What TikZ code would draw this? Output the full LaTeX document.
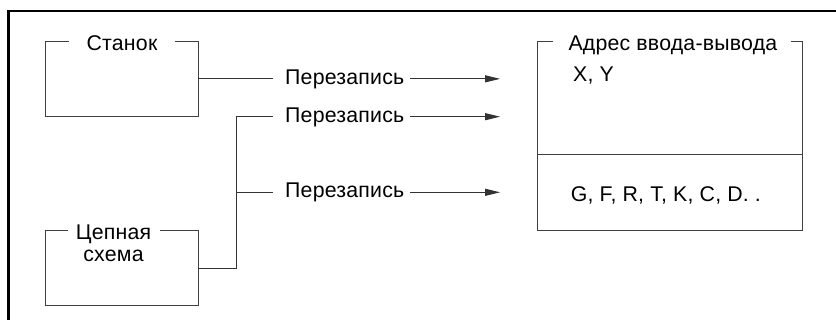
\documentclass[tikz,border=0pt]{standalone}
\usepackage{fontspec}
\setmainfont{Liberation Sans}[LetterSpace=1]
\usetikzlibrary{arrows.meta,calc}
\begin{document}
\begin{tikzpicture}[x=1pt,y=-1pt,
  txt/.style={inner sep=0pt, anchor=base west, font=\fontsize{21.3}{25}\selectfont},
  area/.style={inner sep=0pt, minimum width=#1},
  boxline/.style={draw=black!75, line width=1pt},
  conn/.style={draw=black!80, line width=1pt},
  arr/.style={conn, -{Triangle[length=15pt,width=7pt]}},
  frame/.style={draw=black, line width=2.6pt}]
\useasboundingbox (0,0) rectangle (836,320);
\draw[frame] (8.7,320) |- (836,11);
% box areas
\node[area=152pt, minimum height=74.3pt] (st) at (122,78.85) {};
\node[area=152pt, minimum height=75pt] (cs) at (122,268.2) {};
\node[area=264.7pt, minimum height=188.3pt] (addr) at (669.65,135.85) {};
\coordinate (div) at (0,154.3);
% box outlines with a gap for the title
\draw[boxline] ($(st.north west)+(23,0)$) -- (st.north west) -- (st.south west) -- (st.south east) -- (st.north east) -- ($(st.north east)+(-23,0)$);
\draw[boxline] ($(cs.north west)+(22,0)$) -- (cs.north west) -- (cs.south west) -- (cs.south east) -- (cs.north east) -- ($(cs.north east)+(-38,0)$);
\draw[boxline] ($(addr.north west)+(16,0)$) -- (addr.north west) -- (addr.south west) -- (addr.south east) -- (addr.north east) -- ($(addr.north east)+(-11,0)$);
\draw[boxline] (addr.west |- div) -- (addr.east |- div);
% texts
\node[txt, anchor=base] (stl) at (122,50.5) {Станок};
\node[txt, anchor=base] (cs1) at (113.5,240) {Цепная};
\node[txt, anchor=base] (cs2) at (113.5,261.7) {схема};
\node[txt] (al) at (568.3,51) {Адрес ввода-вывода};
\node[txt] (xy) at (573,82) {X, Y};
\node[txt] (gf) at (570.7,201.5) {G, F, R, T, K, C, D. .};
\node[txt] (p1) at (285,84.5) {Перезапись};
\node[txt] (p2) at (285,122.2) {Перезапись};
\node[txt] (p3) at (285,197.8) {Перезапись};
% connectors
\coordinate (j2) at (236,116.7);
\coordinate (j3) at (236,192.3);
\draw[conn] (st.east) -- ($(p1.west |- st.east)+(-12,0)$);
\draw[arr] ($(p1.east |- st.east)+(6,0)$) -- ($(addr.west |- st.east)+(-37,0)$);
\draw[conn] (cs.east) -| (j2) -- ($(p2.west |- j2)+(-12,0)$);
\draw[arr] ($(p2.east |- j2)+(6,0)$) -- ($(addr.west |- j2)+(-37,0)$);
\draw[conn] (j3) -- ($(p3.west |- j3)+(-12,0)$);
\draw[arr] ($(p3.east |- j3)+(6,0)$) -- ($(addr.west |- j3)+(-37,0)$);
\end{tikzpicture}
\end{document}
